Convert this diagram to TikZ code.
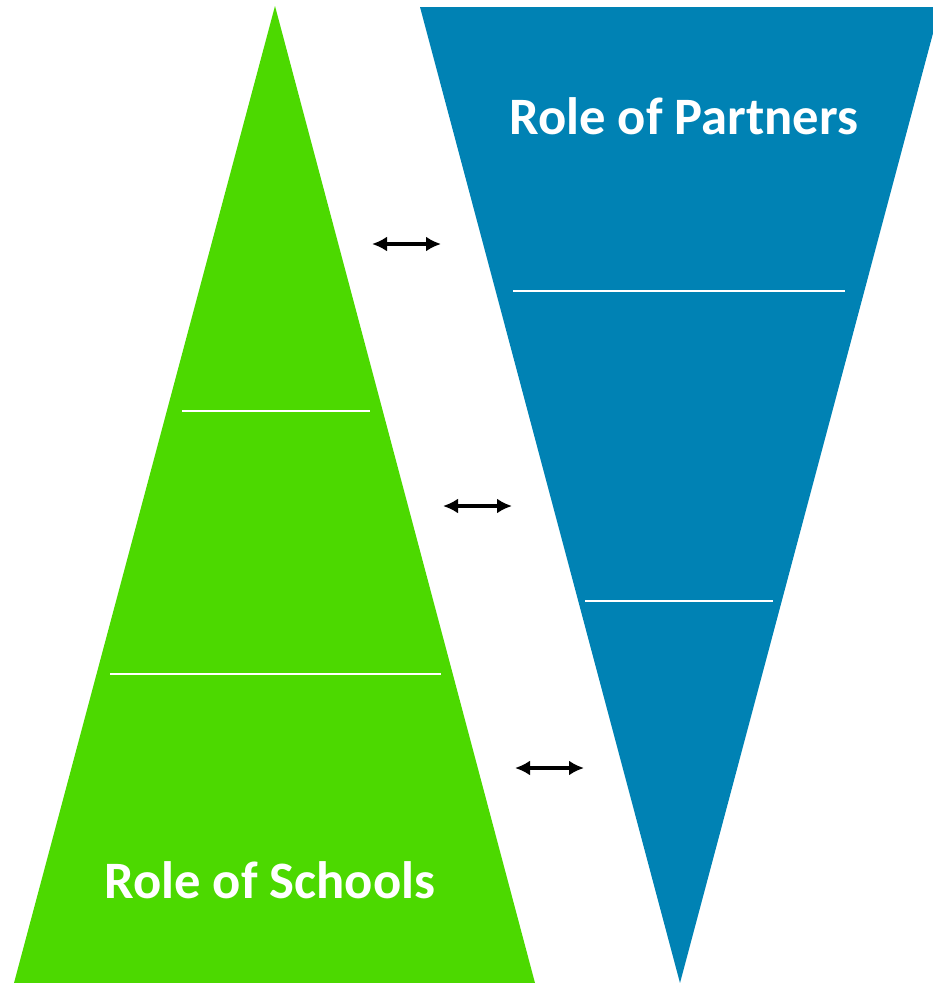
\documentclass[tikz,border=0pt]{standalone}
\usepackage{fontspec}
\setmainfont{Carlito}
\usetikzlibrary{arrows.meta}
\definecolor{schoolgreen}{RGB}{76,217,0}
\definecolor{partnerblue}{RGB}{0,130,180}
\begin{document}
\begin{tikzpicture}[x=1pt,y=-1pt,
  divider/.style={draw=white,line width=1.3pt},
  link/.style={line width=3.5pt,black,{Latex[length=15pt,width=15pt]}-{Latex[length=15pt,width=15pt]}},
  label/.style={text=white,font=\fontsize{52.6}{58}\selectfont\bfseries,anchor=base}]
\useasboundingbox (0,0) rectangle (933,983);
% green pyramid
\coordinate (gA) at (275,6);
\coordinate (gL) at (14,983);
\coordinate (gR) at (535,983);
\fill[schoolgreen] (gA) -- (gR) -- (gL) -- cycle;
% blue inverted pyramid
\coordinate (bL) at (420,7);
\coordinate (bR) at (940,7);
\coordinate (bA) at (680,983);
\fill[partnerblue] (bL) -- (bR) -- (bA) -- cycle;
% dividers
\coordinate (g1a) at (182,411); \coordinate (g1b) at (370,411);
\coordinate (g2a) at (110,674); \coordinate (g2b) at (441,674);
\coordinate (b1a) at (513,291); \coordinate (b1b) at (845,291);
\coordinate (b2a) at (585,601); \coordinate (b2b) at (773,601);
\draw[divider] (g1a) -- (g1b);
\draw[divider] (g2a) -- (g2b);
\draw[divider] (b1a) -- (b1b);
\draw[divider] (b2a) -- (b2b);
% arrows
\coordinate (a1l) at (372,244); \coordinate (a1r) at (441,244);
\coordinate (a2l) at (443,506); \coordinate (a2r) at (512,506);
\coordinate (a3l) at (515,768); \coordinate (a3r) at (584,768);
\draw[link] (a1l) -- (a1r);
\draw[link] (a2l) -- (a2r);
\draw[link] (a3l) -- (a3r);
% labels
\node[label] (partners) at (684,134) {Role of Partners};
\node[label] (schools) at (270,898) {Role of Schools};
\end{tikzpicture}
\end{document}
